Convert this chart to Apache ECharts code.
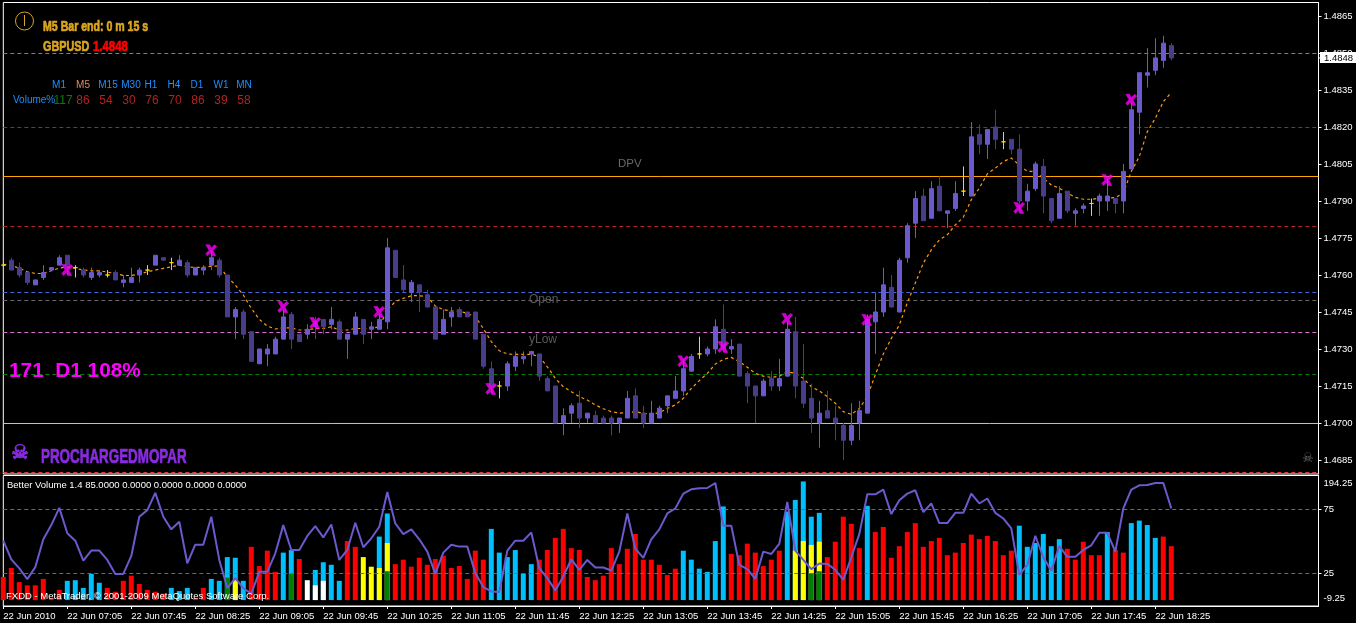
<!DOCTYPE html>
<html><head><meta charset="utf-8">
<style>html,body{margin:0;padding:0;background:#000}#c{width:1356px;height:623px}</style>
<script src="https://cdn.jsdelivr.net/npm/echarts@6/dist/echarts.min.js"></script>
</head><body><div id="c"></div><script>
// Candles: [open, close, low, high] in price points (1.4764 = 14764)
const candles=[[14764,14764,14763,14769],[14766,14762,14762,14767],[14763,14760,14759,14765],[14761,14757,14756,14761],[14756,14758,14756,14758],[14759,14761,14758,14764],[14762,14763,14762,14763],[14764,14767,14764,14768],[14768,14764,14760,14768],[14763,14763,14759,14764],
[14762,14760,14759,14763],[14759,14761,14758,14763],[14760,14761,14759,14762],[14760,14760,14759,14762],[14761,14758,14758,14762],[14757,14758,14755,14760],[14757,14759,14757,14763],[14760,14762,14757,14763],[14762,14762,14760,14764],[14764,14768,14764,14768],
[14767,14766,14766,14767],[14765,14765,14762,14767],[14764,14766,14764,14768],[14765,14760,14759,14766],[14760,14763,14760,14763],[14762,14763,14760,14764],[14764,14767,14762,14770],[14766,14760,14759,14767],[14760,14743,14743,14760],[14743,14746,14734,14747],
[14745,14736,14734,14746],[14737,14725,14725,14737],[14724,14730,14724,14730],[14728,14730,14723,14732],[14728,14734,14728,14735],[14734,14743,14734,14746],[14744,14734,14730,14745],[14736,14733,14733,14736],[14736,14738,14734,14740],[14741,14739,14734,14743],
[14742,14739,14736,14742],[14740,14742,14738,14747],[14741,14734,14734,14742],[14734,14736,14726,14736],[14736,14743,14736,14745],[14742,14736,14732,14742],[14738,14739,14734,14741],[14738,14742,14738,14744],[14741,14771,14738,14775],[14770,14759,14759,14770],
[14758,14754,14753,14764],[14753,14757,14749,14758],[14756,14753,14745,14756],[14752,14747,14747,14754],[14747,14734,14734,14747],[14736,14742,14736,14746],[14743,14745,14739,14747],[14746,14743,14743,14747],[14745,14743,14743,14745],[14745,14734,14734,14745],
[14736,14723,14722,14736],[14722,14715,14712,14725],[14715,14715,14710,14717],[14715,14724,14713,14725],[14723,14727,14721,14729],[14726,14727,14724,14729],[14728,14729,14723,14729],[14728,14719,14717,14728],[14718,14713,14713,14719],[14715,14700,14700,14715],
[14700,14703,14695,14706],[14704,14707,14700,14708],[14708,14702,14698,14713],[14702,14704,14700,14704],[14703,14700,14700,14705],[14702,14700,14700,14703],[14702,14700,14695,14703],[14700,14702,14696,14702],[14702,14710,14702,14713],[14711,14702,14702,14714],
[14704,14700,14698,14707],[14700,14704,14700,14709],[14702,14706,14702,14707],[14707,14711,14704,14711],[14710,14713,14710,14719],[14713,14722,14711,14726],[14721,14727,14721,14728],[14728,14728,14726,14735],[14728,14730,14727,14731],[14730,14739,14728,14742],
[14738,14730,14729,14748],[14730,14731,14728,14734],[14732,14719,14719,14732],[14720,14715,14708,14721],[14715,14711,14700,14715],[14711,14717,14711,14718],[14718,14715,14713,14721],[14715,14718,14713,14726],[14719,14738,14719,14741],[14737,14715,14710,14743],
[14717,14708,14706,14732],[14710,14702,14696,14716],[14700,14704,14690,14709],[14705,14702,14702,14713],[14702,14700,14693,14707],[14699,14693,14685,14700],[14693,14699,14691,14708],[14700,14705,14693,14709],[14704,14742,14704,14744],[14741,14745,14728,14753],
[14745,14756,14743,14763],[14755,14747,14747,14760],[14745,14766,14745,14767],[14767,14780,14765,14781],[14781,14791,14775,14794],[14792,14782,14782,14795],[14783,14795,14783,14798],[14796,14786,14786,14800],[14785,14786,14779,14786],[14787,14793,14786,14798],
[14794,14794,14792,14804],[14792,14816,14792,14822],[14817,14813,14809,14821],[14813,14819,14807,14819],[14820,14815,14811,14827],[14814,14814,14811,14818],[14815,14811,14809,14815],[14811,14790,14786,14817],[14790,14794,14786,14797],[14795,14805,14794,14806],
[14804,14792,14785,14807],[14791,14782,14781,14791],[14783,14793,14783,14796],[14794,14786,14785,14794],[14785,14786,14780,14787],[14787,14788,14785,14789],[14789,14789,14784,14791],[14790,14792,14784,14793],[14790,14792,14786,14800],[14791,14789,14785,14791],
[14790,14802,14785,14805],[14803,14827,14803,14830],[14826,14842,14817,14842],[14841,14842,14836,14852],[14843,14848,14841,14856],[14847,14854,14844,14857],[14853,14848,14847,14854]];

const maPoints=[14764.3,14764,14762.7,14761.3,14760.6,14760.6,14761.7,14762.8,14763.3,14762.7,14762,14761.7,14761.7,14761.2,14760.6,14759.8,14759.8,14760.4,14761.3,14762,14762.7,14763.3,14764,14763.3,14763.1,14763.1,14763.6,14763.6,14759.3,14755.9,14751.9,14746.5,14742,14739.3,14738.1,14738.6,14738.6,14737.7,14737.7,14738.3,14738.3,14739,14737.7,14737.7,14738.3,14738.3,14738.3,14739,14745.8,14749.2,14750.5,14751.6,14751.6,14751.2,14747.4,14746,14745.4,14745.4,14744.4,14743.1,14738.3,14733,14729.3,14728,14727.8,14727.8,14727.8,14726.9,14722.8,14718.1,14714.7,14712.7,14710.7,14709.3,14707.3,14705.8,14704.6,14704,14704.2,14704.6,14703.9,14703.6,14704.2,14705.9,14707.3,14710,14714,14717.2,14720.1,14723.9,14725.8,14726.6,14724.9,14722.6,14720.1,14719,14718.5,14719,14720.8,14720.1,14718.1,14714.7,14713,14710.7,14708,14704.6,14703.5,14705.9,14710.7,14719.5,14728,14734.3,14739.7,14748.7,14756.7,14764.8,14770.2,14774.2,14776.3,14780.3,14783.4,14790.5,14795.2,14801,14803.3,14806,14807.4,14804.6,14802,14802,14799.2,14796.5,14795.2,14793.2,14791.5,14790.7,14790.7,14791.1,14791.1,14791.4,14793.2,14802,14808,14818.1,14823.5,14830.3,14834];

// Magenta crosses: [bar index, price points]
const crosses=[[8,14762],[26,14770],[35,14747],[39,14740.5],[47,14745],[61,14713.8],[85,14725],[90,14730.8],[98,14742.2],[108,14741.8],[127,14787.2],[138,14798.5],[141,14831]];

// Horizontal levels: [price points, colour, kind]
const levels=[[14849.8,'#808080','dashed'],[14819.8,'#008000','dashed'],[14799.93,'#ffa500','solid'],[14779.66,'#b22222','dashed'],[14752.9,'#4169e1','dashed'],[14749.66,'#696969','dashed'],[14736.69,'#da70d6','dashed'],[14719.66,'#008000','dashed'],[14699.8,'#f0c060','solid'],[14679.93,'#dc3c3c','dashed']];

const priceTicks=[1.4685,1.47,1.4715,1.473,1.4745,1.476,1.4775,1.479,1.4805,1.482,1.4835,1.485,1.4865];
const timeLabels=['22 Jun 2010','22 Jun 07:05','22 Jun 07:45','22 Jun 08:25','22 Jun 09:05','22 Jun 09:45','22 Jun 10:25','22 Jun 11:05','22 Jun 11:45','22 Jun 12:25','22 Jun 13:05','22 Jun 13:45','22 Jun 14:25','22 Jun 15:05','22 Jun 15:45','22 Jun 16:25','22 Jun 17:05','22 Jun 17:45','22 Jun 18:25'];

const volumeLine=[50.6,36,29,20.6,30,51.7,62.8,76.3,56.4,50.6,35,42.9,42.9,35.6,24.7,24.7,38.7,69.3,74.5,88,69.3,59.5,65.4,33,47.5,47.5,69.3,35.6,13.6,21.4,13.6,9.2,26.3,26.3,40.8,62.8,43.4,43.4,54.3,62,53.2,63.3,35.6,43.4,64.6,45.5,52.5,61.5,88.7,64.1,55.8,59.5,51.7,42.1,24.7,41.3,47.5,46,46,25.3,14.4,11,10.5,42.9,50.6,50.6,57.1,29.1,21.4,11.8,22.7,36.1,27.9,35.6,29.7,29.7,27.3,42.1,71.9,44.4,37.2,51.7,59.5,71.9,75.8,87.4,90.8,91.6,91.8,95.7,62.3,62.3,31.7,28.4,20.9,42.1,40.3,48.1,81,42.9,35.6,28.4,32.8,32.5,27.9,20.1,37.7,55.8,86.9,86.9,90.6,71.4,82.3,87.4,90,72.9,79.7,64.4,64.4,72.4,72.4,87.4,79.7,83.6,72.4,68,60.2,24,31.7,54.5,37.7,27.1,46.5,38,38,43.4,47,56.9,56.9,42.1,75.8,90.6,93.9,94.2,95.7,95.7,75.8];
const oscillatorLevels=[75,25];

const volumeBars=[36,50,28,23,23,33,3,16,30,31,19,41,27,19,13,30,38,25,16,13,10,19,14,19,3,19,33,30,67,66,30,83,53,77,44,74,78,64,31,47,59,55,30,92,83,67,52,99,135,56,63,52,66,55,64,69,50,53,33,77,63,111,74,67,78,41,56,63,78,97,111,81,78,36,31,38,81,56,80,103,63,63,55,39,49,77,63,49,44,92,146,72,70,88,74,53,63,77,138,156,185,130,136,67,91,130,119,81,147,106,114,66,84,106,120,83,92,97,70,74,89,102,95,100,92,70,77,116,83,89,103,84,95,80,63,91,70,70,106,78,74,120,124,117,97,99,84];
// Colour runs of the volume bars: [first bar, last bar, kind]
const volumeKindRuns=[[0,7,'r'],[8,12,'b'],[13,20,'r'],[21,23,'b'],[24,25,'r'],[26,30,'b'],[31,34,'r'],[35,36,'b'],[37,37,'r'],[38,38,'w'],[39,42,'b'],[43,44,'r'],[45,46,'y'],[47,48,'b'],[49,60,'r'],[61,66,'b'],[67,84,'r'],[85,90,'b'],[91,97,'r'],[98,102,'b'],[103,107,'r'],[108,108,'b'],[109,126,'r'],[127,132,'b'],[133,137,'r'],[138,138,'b'],[139,140,'r'],[141,144,'b'],[145,146,'r']];
const middleParts={28:[35,'g'],29:[31,'y'],36:[41,'g'],39:[23,'w'],40:[30,'w'],47:[50,'y'],48:[89,'y'],99:[77,'y'],100:[92,'y'],101:[86,'y'],102:[91,'y']};
const bottomParts={48:[45,'g'],101:[42,'g'],102:[45,'g']};

const timeframes=['M1','M5','M15','M30','H1','H4','D1','W1','MN'];
const timeframeVolume=[117,86,54,30,76,70,86,39,58];

const palette={r:'#ff0000',b:'#00bfff',y:'#ffff00',w:'#ffffff',g:'#008000'};
const LIGHT='#6a5acd',DARK='#483d8b';
const xMax=164.4;
const axisFont='"Liberation Sans",Arial,sans-serif';
const heavy='bold 15px "Liberation Sans",Arial,sans-serif';

const kinds=[];
volumeKindRuns.forEach(([a,b,c])=>{for(let i=a;i<=b;i++)kinds[i]=c;});

const text=(x,y,s,font,fill,extra,scaleX)=>({type:'text',x,y,z:50,silent:true,scaleX:scaleX||1,style:Object.assign({text:s,font,fill,textVerticalAlign:'middle'},extra||{})});
const thick=c=>({stroke:c,lineWidth:0.7});
const centerXs=[59,83,108,131,151,174,197,221,244];
const valueXs=[63,83,106,129,152,175,198,221,244];
const hud=[
 {type:'circle',shape:{cx:24.5,cy:21,r:9},z:50,silent:true,style:{fill:'none',stroke:'#daa520',lineWidth:1}},
 {type:'line',shape:{x1:24.5,y1:15,x2:24.5,y2:26},z:50,silent:true,style:{stroke:'#daa520',lineWidth:1}},
 text(43,27,'M5 Bar end: 0 m 15 s',heavy,'#daa520',thick('#daa520'),0.705),
 text(43,47,'GBPUSD',heavy,'#daa520',thick('#daa520'),0.72),
 text(93,47,'1.4848',heavy,'#ff0000',thick('#ff0000'),0.76),
 text(13,100,'Volume%','10px '+axisFont,'#1e90ff'),
 text(9,371,'171  D1 108%','bold 20.8px '+axisFont,'#ff00ff'),
 text(11,454,'☠','20px "DejaVu Sans"','#8a2be2',thick('#8a2be2')),
 text(41,457,'PROCHARGEDMOPAR','bold 20px "Liberation Sans",Arial,sans-serif','#8a2be2',thick('#8a2be2'),0.67),
 text(1302,459,'☠','13px "DejaVu Sans"','#696969'),
 text(618,164,'DPV','11.5px '+axisFont,'#696969'),
 text(529,300,'Open','12px '+axisFont,'#5a5a5a'),
 text(529,340,'yLow','12px '+axisFont,'#5a5a5a'),
 text(7,485,'Better Volume 1.4 85.0000 0.0000 0.0000 0.0000 0.0000','9.5px '+axisFont,'#ffffff'),
 text(6,596,'FXDD - MetaTrader, © 2001-2009 MetaQuotes Software Corp.','9.5px '+axisFont,'#ffffff'),
 {type:'rect',shape:{x:1320,y:52,width:36,height:11},z:49,silent:true,style:{fill:'#ffffff'}},
 {type:'line',shape:{x1:1318,y1:58,x2:1321,y2:58},z:50,silent:true,style:{stroke:'#ffffff',lineWidth:1}},
 text(1324,58,'1.4848','9.5px '+axisFont,'#000000'),
];
timeframes.forEach((t,i)=>hud.push(text(centerXs[i],85,t,'10px '+axisFont,t==='M5'?'#e08a60':'#1e90ff',{textAlign:'center'})));
timeframeVolume.forEach((v,i)=>hud.push(text(valueXs[i],101,String(v),'12px '+axisFont,i===0?'#008000':'#b22222',{textAlign:'center'})));

const barItem=(i,part)=>({value:[i,part[0]],itemStyle:{color:palette[part[1]]}});
const partsSeries=(obj)=>Object.keys(obj).map(k=>barItem(+k,obj[k]));
const barCommon={type:'bar',xAxisIndex:1,yAxisIndex:2,barWidth:5,barGap:'-100%',silent:true};

const levelSeries=levels.map(l=>({type:'line',xAxisIndex:0,yAxisIndex:0,z:1,silent:true,symbol:'none',
  data:[[0,l[0]/10000],[xMax,l[0]/10000]],lineStyle:{color:l[1],width:1,type:l[2]==='dashed'?[4,3]:'solid'}}));
const oscLevelSeries=oscillatorLevels.map(v=>({type:'line',xAxisIndex:1,yAxisIndex:1,z:5,silent:true,symbol:'none',
  data:[[0,v],[xMax,v]],lineStyle:{color:LIGHT,width:1,type:[4,3]}}));

const option={
 backgroundColor:'#000',animation:false,
 graphic:{elements:hud},
 grid:[
  {left:3.3,top:2.5,width:1315.2,height:471.5,show:true,backgroundColor:'#000',borderColor:'#fff',borderWidth:1},
  {left:3.3,top:475.5,width:1315.2,height:130.5,show:true,backgroundColor:'#000',borderColor:'#fff',borderWidth:1}
 ],
 xAxis:[
  {gridIndex:0,type:'value',min:0,max:xMax,show:false,splitLine:{show:false}},
  {gridIndex:1,type:'value',min:0,max:xMax,splitLine:{show:false},
   axisLine:{onZero:false,lineStyle:{color:'#fff'}},
   axisTick:{customValues:timeLabels.map((_,i)=>i*8),length:3,lineStyle:{color:'#fff'}},
   axisLabel:{customValues:timeLabels.map((_,i)=>i*8),formatter:v=>timeLabels[Math.round(v/8)],color:'#fff',fontFamily:axisFont,fontSize:9.5,align:'left',margin:5}}
 ],
 yAxis:[
  {gridIndex:0,type:'value',position:'right',min:1.4679322,max:1.4870473,splitLine:{show:false},
   axisLine:{show:true,onZero:false,lineStyle:{color:'#fff'}},
   axisTick:{show:true,customValues:priceTicks,length:3,lineStyle:{color:'#fff'}},
   axisLabel:{customValues:priceTicks,formatter:v=>v.toFixed(4),color:'#fff',fontFamily:axisFont,fontSize:9.5,margin:5}},
  {gridIndex:1,type:'value',position:'right',min:-0.39,max:101.56,splitLine:{show:false},
   axisLine:{show:true,onZero:false,lineStyle:{color:'#fff'}},
   axisTick:{show:true,customValues:oscillatorLevels,length:3,lineStyle:{color:'#fff'}},
   axisLabel:{customValues:oscillatorLevels,color:'#fff',fontFamily:axisFont,fontSize:9.5,margin:5}},
  {gridIndex:1,type:'value',position:'right',min:-9.25,max:194.25,splitLine:{show:false},
   axisLine:{show:false,onZero:false},axisTick:{show:false},
   axisLabel:{customValues:[-9.25,194.25],color:'#fff',fontFamily:axisFont,fontSize:9.5,margin:5,lineHeight:15,verticalAlignMinLabel:'bottom',verticalAlignMaxLabel:'top'}}
 ],
 series:[
  ...levelSeries,
  {type:'line',name:'MA',xAxisIndex:0,yAxisIndex:0,z:2,silent:true,symbol:'none',
   data:maPoints.map((v,i)=>[i,v/10000]),lineStyle:{color:'#ff9a10',width:1.2,type:[3,3]}},
  {type:'candlestick',name:'GBPUSD',xAxisIndex:0,yAxisIndex:0,z:3,silent:true,barWidth:5,
   data:candles.map((c,i)=>[i,c[0]/10000,c[1]/10000,c[2]/10000,c[3]/10000]),
   itemStyle:{color:LIGHT,color0:DARK,borderColor:LIGHT,borderColor0:DARK,borderColorDoji:'#ffd700',borderWidth:1}},
  {type:'scatter',name:'crosses',xAxisIndex:0,yAxisIndex:0,z:4,silent:true,symbolSize:11,
   symbol:'path://M0 0L3.5 0L5 3L8 0L10 1.5L6.5 5L9 10L5.5 10L4 7L1.5 10L0 8L3 5Z',
   data:crosses.map(c=>[c[0],c[1]/10000]),itemStyle:{color:'#ff00ff',borderColor:'#ff00ff',borderWidth:0.6}},
  Object.assign({},barCommon,{name:'volume',z:2,data:volumeBars.map((v,i)=>barItem(i,[v,kinds[i]]))}),
  Object.assign({},barCommon,{name:'middle',z:3,data:partsSeries(middleParts)}),
  Object.assign({},barCommon,{name:'bottom',z:4,data:partsSeries(bottomParts)}),
  ...oscLevelSeries,
  {type:'line',name:'volumeLine',xAxisIndex:1,yAxisIndex:1,z:6,silent:true,symbol:'none',
   data:volumeLine.map((v,i)=>[i,v]),lineStyle:{color:LIGHT,width:2}}
 ]
};
const chart=echarts.init(document.getElementById('c'),null,{renderer:'canvas',width:1356,height:623});
chart.setOption(option);
</script></body></html>
